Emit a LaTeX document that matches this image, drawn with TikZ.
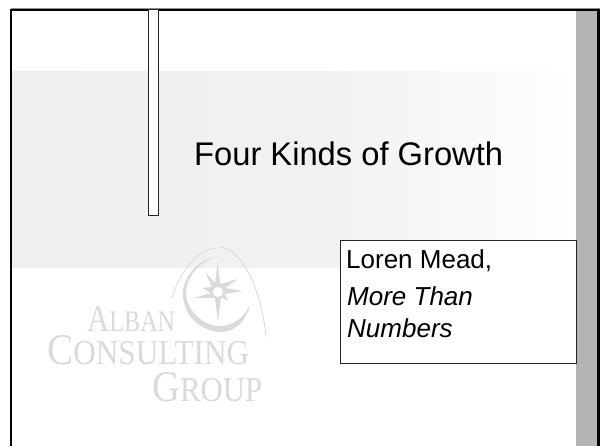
\documentclass[tikz,border=0pt]{standalone}
\usepackage{fontspec}
\usepackage{graphicx}
\setmainfont{Liberation Sans}
\newfontfamily\logofont{Liberation Serif}
\definecolor{logogrey}{HTML}{DADADA}
\definecolor{bandgrey}{HTML}{EFEFEF}
\definecolor{bargrey}{HTML}{B4B4B4}
\tikzset{
  logotext/.style={text=logogrey,inner sep=0pt,anchor=base west,font=\logofont},
  slidetext/.style={inner sep=0pt,anchor=base west,text=black},
  thinbox/.style={draw=black!85,line width=0.9pt,fill=white}
}
\begin{document}
\begin{tikzpicture}[x=1pt,y=-1pt]
\useasboundingbox (0,0) rectangle (600,446);
\fill[white] (0,0) rectangle (600,446);
% band
\shade[left color=bandgrey,right color=bandgrey!85!white] (12,72) rectangle (330,268);
\shade[left color=bandgrey!85!white,right color=white] (330,72) rectangle (576,268);
% bar
\fill[bargrey] (576,10) rectangle (598,446);
% logo
\draw[logogrey,line width=0.8pt] (172,298) .. controls (181,268) and (200,249) .. (216,248);
\draw[logogrey,line width=0.8pt] (220,247) .. controls (245,250) and (262,295) .. (266,337);
\fill[logogrey] (220,256) .. controls (195,259) and (182,280) .. (183,296) .. controls (185,320) and (205,332) .. (221,332) .. controls (235,332) and (247,320) .. (250,305) .. controls (244,318) and (232,327) .. (217,326) .. controls (200,324) and (186,308) .. (186,293) .. controls (186,275) and (203,259) .. (220,256) -- cycle;
\fill[logogrey] (218,261) -- (220,284) -- (238,279) -- (225,288) -- (243,291) -- (225,294) -- (228,301) -- (221,297) -- (218,322) -- (215,298) -- (194,298) -- (211,293) -- (202,288) -- (212,287) -- (205,272) -- (215,283) -- cycle;
\fill[white] (218,292) circle (5.5);
\draw[logogrey,line width=0.6pt] (218,292) circle (5.5);
\node[logotext] (alban) at (87,332) {\resizebox{88pt}{25pt}{\fontsize{33}{33}\selectfont A\fontsize{26}{26}\selectfont LBAN}};
\node[logotext] (consulting) at (47,365) {\resizebox{202pt}{29pt}{\fontsize{37}{37}\selectfont C\fontsize{29.5}{29.5}\selectfont ONSULTING}};
\node[logotext] (group) at (152,401) {\resizebox{110pt}{29pt}{\fontsize{37}{37}\selectfont G\fontsize{29.5}{29.5}\selectfont ROUP}};
% frame
\fill[black!45] (11,8) rectangle (600,9);
\draw[black,line width=2.4pt] (11,446) -- (11,10) -- (598.5,10) -- (598.5,446);
% thin rect
\node[thinbox,minimum width=10pt,minimum height=206pt,inner sep=0pt,anchor=north west] (post) at (148,9) {};
% title
\node[slidetext,font=\fontsize{32.7}{32.7}\selectfont] (title) at (194,166) {Four Kinds of Growth};
% text box
\node[thinbox,line width=0.7pt,minimum width=236pt,minimum height=123pt,inner sep=0pt,anchor=north west] (box) at (340,240) {};
\node[slidetext,font=\fontsize{26}{26}\selectfont] (loren) at (346,269) {Loren Mead,};
\node[slidetext,font=\fontsize{26}{26}\selectfont\itshape] (more) at (347,306) {More Than};
\node[slidetext,font=\fontsize{26}{26}\selectfont\itshape] (numbers) at (347,338) {Numbers};
\end{tikzpicture}
\end{document}
